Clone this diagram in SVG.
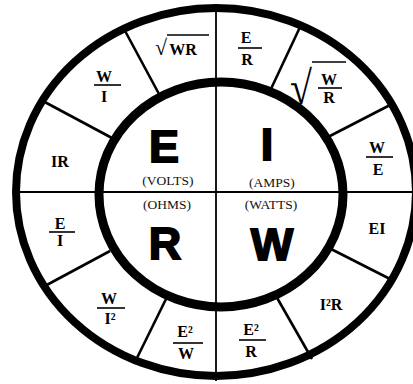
<svg xmlns="http://www.w3.org/2000/svg" width="413" height="384" viewBox="0 0 413 384">
<style>
.ring{fill:none;stroke:#000}
.div{stroke:#000;stroke-width:2.6;stroke-linecap:butt}
.axis{stroke:#000;stroke-width:1.8}
.fr{stroke:#000;stroke-width:1.6}
.big{font-family:"Liberation Sans",Arial,sans-serif;font-weight:bold;font-size:45px;text-anchor:middle;fill:#000;stroke:#000;stroke-width:1.8}
.unit{font-family:"Liberation Serif","Times New Roman",serif;font-size:13.5px;text-anchor:middle;fill:#111}
.f{font-family:"Liberation Serif","Times New Roman",serif;font-weight:bold;font-size:16px;text-anchor:middle;fill:#000}
.rad{font-family:"Liberation Serif","DejaVu Serif",serif;fill:#000}
</style>
<rect width="413" height="384" fill="#fff"/>
<g id="axes">
<line class="axis" x1="216" y1="4" x2="216" y2="381"/>
<line class="axis" x1="14" y1="192" x2="413" y2="192"/>
</g>
<g id="connectors">
<line class="div" x1="159" y1="94" x2="124" y2="29"/>
<line class="div" x1="112" y1="138" x2="41" y2="100"/>
<line class="div" x1="270" y1="91" x2="301" y2="25"/>
<line class="div" x1="328" y1="137" x2="392" y2="104"/>
<line class="div" x1="110" y1="251" x2="43" y2="287"/>
<line class="div" x1="167" y1="297" x2="134" y2="364"/>
<line class="div" x1="276" y1="296" x2="312" y2="359"/>
<line class="div" x1="331" y1="249" x2="394" y2="281"/>
</g>
<g id="rings">
<ellipse class="ring" cx="216" cy="192" rx="200" ry="184" stroke-width="8"/>
<ellipse class="ring" cx="221" cy="194.5" rx="122" ry="112.5" stroke-width="9"/>
</g>
<g id="node-E">
<text class="big" x="164" y="162">E</text>
<text class="unit" x="168" y="185">(VOLTS)</text>
</g>
<g id="node-I">
<text class="big" x="267" y="160">I</text>
<text class="unit" x="272" y="187">(AMPS)</text>
</g>
<g id="node-R">
<text class="unit" x="167" y="209">(OHMS)</text>
<text class="big" x="165" y="259">R</text>
</g>
<g id="node-W">
<text class="unit" x="271" y="209">(WATTS)</text>
<text class="big" x="272" y="260">W</text>
</g>
<g id="f-IR"><text class="f" x="60" y="167">IR</text></g>
<g id="f-W-I">
<text class="f" x="104" y="82">W</text>
<line class="fr" x1="94" y1="85" x2="121" y2="85"/>
<text class="f" x="104" y="102">I</text>
</g>
<g id="f-sqrtWR">
<text class="rad" x="155" y="55" font-size="22">√</text>
<line class="fr" x1="167" y1="35" x2="209" y2="35"/>
<text class="f" x="183" y="55">WR</text>
</g>
<g id="f-E-R">
<text class="f" x="246" y="43">E</text>
<line class="fr" x1="238" y1="48" x2="262" y2="48"/>
<text class="f" x="247" y="65">R</text>
</g>
<g id="f-sqrtW-R">
<text class="rad" font-size="40" transform="translate(290 104) scale(1 1.17)">√</text>
<line class="fr" x1="312" y1="62" x2="346" y2="62"/>
<text class="f" x="329" y="85">W</text>
<line class="fr" x1="318" y1="88" x2="342" y2="88"/>
<text class="f" x="329" y="103">R</text>
</g>
<g id="f-W-E">
<text class="f" x="377" y="153">W</text>
<line class="fr" x1="366" y1="157" x2="393" y2="157"/>
<text class="f" x="378" y="175">E</text>
</g>
<g id="f-EI"><text class="f" x="377" y="234">EI</text></g>
<g id="f-I2R"><text class="f" x="331" y="310">I²R</text></g>
<g id="f-E2-R">
<text class="f" x="251" y="335">E²</text>
<line class="fr" x1="239" y1="340" x2="266" y2="340"/>
<text class="f" x="251" y="357">R</text>
</g>
<g id="f-E2-W">
<text class="f" x="185" y="337">E²</text>
<line class="fr" x1="173" y1="343" x2="203" y2="343"/>
<text class="f" x="186" y="359">W</text>
</g>
<g id="f-W-I2">
<text class="f" x="109" y="304">W</text>
<line class="fr" x1="97" y1="308" x2="125" y2="308"/>
<text class="f" x="110" y="324">I²</text>
</g>
<g id="f-E-I">
<text class="f" x="60" y="229">E</text>
<line class="fr" x1="49" y1="232" x2="75" y2="232"/>
<text class="f" x="60" y="246">I</text>
</g>
</svg>
